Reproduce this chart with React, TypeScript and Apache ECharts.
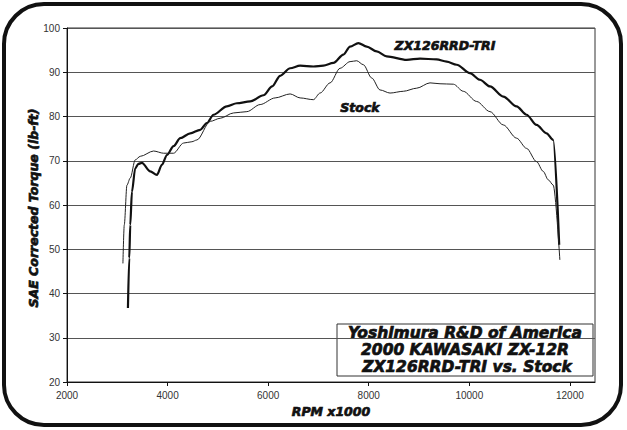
import React, { useEffect, useRef } from "react";
import * as echarts from "echarts";

const tuneRpm = [3212, 3238, 3258, 3291, 3357, 3420, 3490, 3655, 3788, 3888, 3987, 4120, 4252, 4451, 4650, 4780, 4914, 5179, 5378, 5643, 5907, 6080, 6238, 6437, 6636, 6900, 7099, 7298, 7497, 7629, 7794, 7960, 8159, 8357, 8755, 9020, 9351, 9550, 9749, 10013, 10212, 10411, 10676, 10941, 11139, 11338, 11537, 11669, 11788];
const tuneTorque = [36.7, 48.0, 55.5, 63.0, 68.3, 69.3, 69.5, 67.6, 66.8, 69.1, 71.3, 73.3, 75.1, 76.2, 77.0, 78.5, 80.4, 82.3, 83.0, 83.4, 84.8, 86.8, 89.2, 90.9, 91.5, 91.3, 91.5, 92.1, 94.0, 95.8, 96.6, 95.8, 94.7, 93.6, 92.8, 93.1, 92.9, 92.4, 91.7, 89.8, 88.3, 86.8, 84.5, 82.3, 80.4, 78.1, 76.2, 74.7, 51.0];

const stockRpm = [3112, 3139, 3192, 3258, 3357, 3457, 3722, 3921, 4119, 4318, 4484, 4583, 4848, 5046, 5311, 5577, 5841, 6139, 6437, 6636, 6900, 7033, 7232, 7430, 7629, 7761, 7894, 8060, 8225, 8424, 8689, 8954, 9219, 9418, 9683, 9881, 10146, 10411, 10676, 10941, 11139, 11338, 11470, 11570, 11669, 11801];
const stockTorque = [46.8, 55.5, 64.5, 66.1, 70.2, 71.0, 72.2, 71.7, 71.7, 74.0, 74.3, 74.7, 78.9, 79.6, 80.8, 81.1, 82.7, 84.2, 85.1, 84.2, 83.8, 85.3, 87.6, 90.9, 92.4, 92.6, 91.7, 88.7, 86.0, 85.3, 85.7, 86.4, 87.6, 87.4, 87.3, 85.7, 83.4, 81.1, 78.1, 75.1, 72.8, 69.8, 67.6, 65.7, 64.5, 47.6];

const titleLines = ["Yoshimura R&D of America", "2000 KAWASAKI ZX-12R", "ZX126RRD-TRI vs. Stock"];
const seriesNames = ["ZX126RRD-TRI", "Stock"];
const xTitle = "RPM x1000";
const yTitle = "SAE Corrected Torque (lb-ft)";

const heavy = { fontFamily: "DejaVu Sans", fontWeight: "bold" as any, fontStyle: "italic" as any, fill: "#111", stroke: "#111", lineWidth: 0.7 };

export default function App() {
  const ref = useRef<HTMLDivElement>(null);
  useEffect(() => {
    document.body.style.margin = "0";
    const chart = echarts.init(ref.current!, null, { renderer: "svg" });
    const tune = tuneRpm.map((r, i) => [r, tuneTorque[i]]);
    const stock = stockRpm.map((r, i) => [r, stockTorque[i]]);
    chart.setOption({
      animation: false,
      backgroundColor: "#fff",
      grid: { left: 67, top: 28, right: 32, bottom: 48, show: true, borderColor: "#333", borderWidth: 1, backgroundColor: "transparent" },
      xAxis: {
        type: "value", min: 2000, max: 12500, interval: 2000,
        axisLine: { show: true, lineStyle: { color: "#111", width: 1 } },
        axisTick: { show: true, length: 4, lineStyle: { color: "#111" } },
        axisLabel: { showMaxLabel: false, formatter: (v: number) => String(v), color: "#333", fontFamily: "Liberation Sans", fontSize: 10, margin: 8 },
        splitLine: { show: false },
      },
      yAxis: {
        type: "value", min: 20, max: 100, interval: 10,
        axisLine: { show: true, lineStyle: { color: "#111", width: 1 } },
        axisTick: { show: true, length: 4, lineStyle: { color: "#111" } },
        axisLabel: { color: "#333", fontFamily: "Liberation Sans", fontSize: 10, margin: 7 },
        splitLine: { show: true, lineStyle: { color: "#555", width: 1 } },
      },
      series: [
        { name: seriesNames[0], type: "line", data: tune, showSymbol: false, smooth: 0.3, smoothMonotone: "x", lineStyle: { color: "#111", width: 2.2 } },
        { name: seriesNames[1], type: "line", data: stock, showSymbol: false, smooth: 0.3, smoothMonotone: "x", lineStyle: { color: "#222", width: 1 } },
      ],
      graphic: [
        { type: "rect", shape: { x: 4, y: 4, width: 617, height: 421, r: 40 }, style: { fill: "none", stroke: "#111", lineWidth: 4 }, silent: true },
        { type: "text", x: 33, y: 208, rotation: Math.PI / 2, style: { ...heavy, text: yTitle, fontSize: 12.5, textAlign: "center", textVerticalAlign: "middle" } },
        { type: "text", x: 331, y: 411, style: { ...heavy, text: xTitle, fontSize: 12.5, textAlign: "center", textVerticalAlign: "middle" } },
        { type: "text", x: 445, y: 45, style: { ...heavy, text: seriesNames[0], fontSize: 12.5, textAlign: "center", textVerticalAlign: "middle" } },
        { type: "text", x: 360, y: 107, style: { ...heavy, text: seriesNames[1], fontSize: 12.5, textAlign: "center", textVerticalAlign: "middle" } },
        { type: "rect", shape: { x: 337, y: 324, width: 256, height: 52 }, style: { fill: "#fff", stroke: "#333", lineWidth: 1 } },
        { type: "text", x: 465, y: 333, style: { ...heavy, text: titleLines[0], fontSize: 15.5, textAlign: "center", textVerticalAlign: "middle" } },
        { type: "text", x: 465, y: 350, style: { ...heavy, text: titleLines[1], fontSize: 15.5, textAlign: "center", textVerticalAlign: "middle" } },
        { type: "text", x: 467, y: 367, style: { ...heavy, text: titleLines[2], fontSize: 15.5, textAlign: "center", textVerticalAlign: "middle" } },
      ],
    });
    return () => chart.dispose();
  }, []);
  return <div ref={ref} style={{ width: 627, height: 430 }} />;
}
